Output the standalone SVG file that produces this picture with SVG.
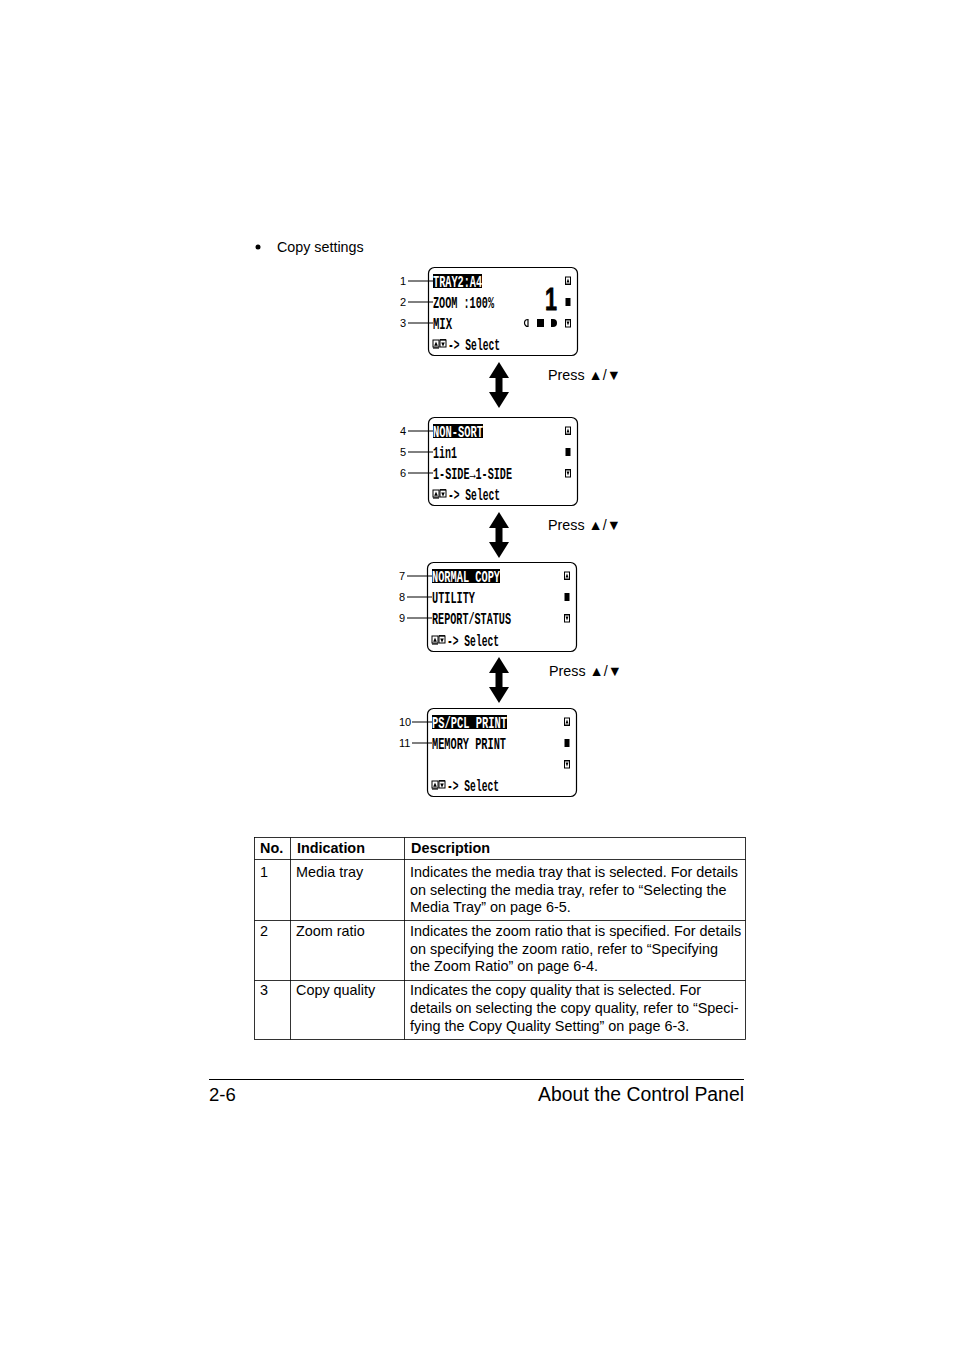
<svg xmlns="http://www.w3.org/2000/svg" width="954" height="1350" viewBox="0 0 954 1350">
<style>
.scr{fill:#fff;stroke:#000;stroke-width:1.2}
.lcd{font-family:"Liberation Mono","DejaVu Sans Mono",monospace;font-size:16px;font-weight:bold;fill:#000}
.inv{fill:#fff}
.num{font-family:"Liberation Sans",Arial,sans-serif;font-size:11px;fill:#000}
.ldr{stroke:#000;stroke-width:1}
.body{font-family:"Liberation Sans",Arial,sans-serif;font-size:14.3px;fill:#000}
.tb{font-family:"Liberation Sans",Arial,sans-serif;font-size:14.4px;fill:#000}
.th{font-weight:bold}
.tl{stroke:#000;stroke-width:0.8;fill:none}
</style>
<defs>
<g id="up"><rect x="-2.5" y="-4" width="5" height="7" fill="#fff" stroke="#000" stroke-width="1"/><path d="M-1.5 1.5 L0 -2.5 L1.5 1.5 Z" fill="#000"/><line x1="-3" y1="3.5" x2="3" y2="3.5" stroke="#000" stroke-width="1"/></g>
<g id="down"><rect x="-2.5" y="-3" width="5" height="7" fill="#fff" stroke="#000" stroke-width="1"/><path d="M-1.5 -1.5 L0 2.5 L1.5 -1.5 Z" fill="#000"/><line x1="-3" y1="-3.5" x2="3" y2="-3.5" stroke="#000" stroke-width="1"/></g>
<rect id="bar" x="-2.5" y="-4" width="5" height="8" fill="#000"/>
<g id="sel"><rect x="0" y="-4" width="6" height="7" fill="#fff" stroke="#000" stroke-width="1"/><path d="M1.2 1.8 L3 -2.5 L4.8 1.8 Z" fill="#000"/><line x1="0" y1="4" x2="6" y2="4" stroke="#000" stroke-width="1.2"/><rect x="7" y="-4" width="6" height="7" fill="#fff" stroke="#000" stroke-width="1"/><path d="M8.2 -1.5 L10 2.5 L11.8 -1.5 Z" fill="#000"/><line x1="7" y1="-4.3" x2="13" y2="-4.3" stroke="#000" stroke-width="1.2"/></g>
<polygon id="dbl" points="0,0 10,16 3.5,16 3.5,30 10,30 0,46 -10,30 -3.5,30 -3.5,16 -10,16" fill="#000"/>
</defs>

<g id="caption">
<circle cx="258" cy="247" r="2.5" fill="#000"/>
<text class="body" x="277" y="252">Copy settings</text>
</g>

<g id="screen1">
<rect class="scr" x="428.5" y="267.5" width="149" height="88" rx="6"/>
<rect x="433" y="274" width="49" height="14" fill="#000"/>
<text class="lcd inv" x="433" y="286.5" textLength="49" lengthAdjust="spacingAndGlyphs">TRAY2:A4</text>
<text class="lcd" x="433" y="307.5" textLength="61" lengthAdjust="spacingAndGlyphs">ZOOM :100%</text>
<text class="lcd" x="433" y="328.5" textLength="19" lengthAdjust="spacingAndGlyphs">MIX</text>
<use href="#sel" x="433" y="344"/>
<text class="lcd" x="448" y="349.5" textLength="52" lengthAdjust="spacingAndGlyphs">-&gt; Select</text>
<text x="545" y="310" font-family="Liberation Sans,Arial,sans-serif" font-weight="bold" font-size="32" stroke="#000" stroke-width="0.8" textLength="12" lengthAdjust="spacingAndGlyphs">1</text>
<use href="#up" x="568" y="281"/>
<use href="#bar" x="568" y="302"/>
<use href="#down" x="568" y="323"/>
<path d="M528 319.5 A3.5 3.5 0 0 0 528 326.5 Z" fill="none" stroke="#000" stroke-width="1.2"/>
<rect x="537" y="319" width="7" height="8" fill="#000"/>
<path d="M551 319 L553 319 A4 4 0 0 1 553 327 L551 327 Z" fill="#000"/>
<text class="num" x="400" y="285">1</text>
<text class="num" x="400" y="306">2</text>
<text class="num" x="400" y="327">3</text>
<line class="ldr" x1="408" y1="281" x2="433" y2="281"/>
<line class="ldr" x1="408" y1="302" x2="433" y2="302"/>
<line class="ldr" x1="408" y1="323" x2="433" y2="323"/>
</g>

<g id="screen2">
<rect class="scr" x="428.5" y="417.5" width="149" height="88" rx="6"/>
<rect x="433" y="424" width="50" height="14" fill="#000"/>
<text class="lcd inv" x="433" y="436.5" textLength="50" lengthAdjust="spacingAndGlyphs">NON-SORT</text>
<text class="lcd" x="433" y="457.5" textLength="24" lengthAdjust="spacingAndGlyphs">1in1</text>
<text class="lcd" x="433" y="478.5" textLength="79" lengthAdjust="spacingAndGlyphs">1-SIDE→1-SIDE</text>
<use href="#sel" x="433" y="494"/>
<text class="lcd" x="448" y="499.5" textLength="52" lengthAdjust="spacingAndGlyphs">-&gt; Select</text>
<use href="#up" x="568" y="431"/>
<use href="#bar" x="568" y="452"/>
<use href="#down" x="568" y="473"/>
<text class="num" x="400" y="435">4</text>
<text class="num" x="400" y="456">5</text>
<text class="num" x="400" y="477">6</text>
<line class="ldr" x1="408" y1="431" x2="433" y2="431"/>
<line class="ldr" x1="408" y1="452" x2="433" y2="452"/>
<line class="ldr" x1="408" y1="473" x2="433" y2="473"/>
</g>

<g id="screen3">
<rect class="scr" x="427.5" y="562.5" width="149" height="89" rx="6"/>
<rect x="432" y="569" width="68" height="14" fill="#000"/>
<text class="lcd inv" x="432" y="581.5" textLength="68" lengthAdjust="spacingAndGlyphs">NORMAL COPY</text>
<text class="lcd" x="432" y="602.5" textLength="43" lengthAdjust="spacingAndGlyphs">UTILITY</text>
<text class="lcd" x="432" y="623.5" textLength="79" lengthAdjust="spacingAndGlyphs">REPORT/STATUS</text>
<use href="#sel" x="432" y="640"/>
<text class="lcd" x="447" y="645.5" textLength="52" lengthAdjust="spacingAndGlyphs">-&gt; Select</text>
<use href="#up" x="567" y="576"/>
<use href="#bar" x="567" y="597"/>
<use href="#down" x="567" y="618"/>
<text class="num" x="399" y="580">7</text>
<text class="num" x="399" y="601">8</text>
<text class="num" x="399" y="622">9</text>
<line class="ldr" x1="407" y1="576" x2="432" y2="576"/>
<line class="ldr" x1="407" y1="597" x2="432" y2="597"/>
<line class="ldr" x1="407" y1="618" x2="432" y2="618"/>
</g>

<g id="screen4">
<rect class="scr" x="427.5" y="708.5" width="149" height="88" rx="6"/>
<rect x="432" y="715" width="75" height="14" fill="#000"/>
<text class="lcd inv" x="432" y="727.5" textLength="75" lengthAdjust="spacingAndGlyphs">PS/PCL PRINT</text>
<text class="lcd" x="432" y="748.5" textLength="74" lengthAdjust="spacingAndGlyphs">MEMORY PRINT</text>
<use href="#sel" x="432" y="785"/>
<text class="lcd" x="447" y="790.5" textLength="52" lengthAdjust="spacingAndGlyphs">-&gt; Select</text>
<use href="#up" x="567" y="722"/>
<use href="#bar" x="567" y="743"/>
<use href="#down" x="567" y="764"/>
<text class="num" x="399" y="726">10</text>
<text class="num" x="399" y="747">11</text>
<line class="ldr" x1="412" y1="722" x2="432" y2="722"/>
<line class="ldr" x1="412" y1="743" x2="432" y2="743"/>
</g>

<g id="connectors">
<use href="#dbl" x="499" y="362"/>
<use href="#dbl" x="499" y="512"/>
<use href="#dbl" x="499" y="657"/>
<text class="body" x="548" y="380">Press ▲/▼</text>
<text class="body" x="548" y="530">Press ▲/▼</text>
<text class="body" x="549" y="676">Press ▲/▼</text>
</g>

<g id="table">
<rect class="tl" x="254.5" y="837.5" width="491" height="202"/>
<line class="tl" x1="290.5" y1="837.5" x2="290.5" y2="1039.5"/>
<line class="tl" x1="404.5" y1="837.5" x2="404.5" y2="1039.5"/>
<line class="tl" x1="254.5" y1="859.5" x2="745.5" y2="859.5"/>
<line class="tl" x1="254.5" y1="920.5" x2="745.5" y2="920.5"/>
<line class="tl" x1="254.5" y1="980.5" x2="745.5" y2="980.5"/>
<text class="tb th" x="260" y="853">No.</text>
<text class="tb th" x="297" y="853">Indication</text>
<text class="tb th" x="411" y="853">Description</text>
<text class="tb" x="260" y="877">1</text>
<text class="tb" x="296" y="877">Media tray</text>
<text class="tb" x="410" y="877">Indicates the media tray that is selected. For details</text>
<text class="tb" x="410" y="895">on selecting the media tray, refer to “Selecting the</text>
<text class="tb" x="410" y="912">Media Tray” on page 6-5.</text>
<text class="tb" x="260" y="936">2</text>
<text class="tb" x="296" y="936">Zoom ratio</text>
<text class="tb" x="410" y="936">Indicates the zoom ratio that is specified. For details</text>
<text class="tb" x="410" y="954">on specifying the zoom ratio, refer to “Specifying</text>
<text class="tb" x="410" y="971">the Zoom Ratio” on page 6-4.</text>
<text class="tb" x="260" y="995">3</text>
<text class="tb" x="296" y="995">Copy quality</text>
<text class="tb" x="410" y="995">Indicates the copy quality that is selected. For</text>
<text class="tb" x="410" y="1013">details on selecting the copy quality, refer to “Speci-</text>
<text class="tb" x="410" y="1031">fying the Copy Quality Setting” on page 6-3.</text>
</g>

<g id="footer">
<line x1="209" y1="1079.5" x2="744" y2="1079.5" stroke="#000" stroke-width="1"/>
<text x="209" y="1101" font-family="Liberation Sans,Arial,sans-serif" font-size="18.5">2-6</text>
<text x="744" y="1101" font-family="Liberation Sans,Arial,sans-serif" font-size="19.4" text-anchor="end">About the Control Panel</text>
</g>
</svg>
